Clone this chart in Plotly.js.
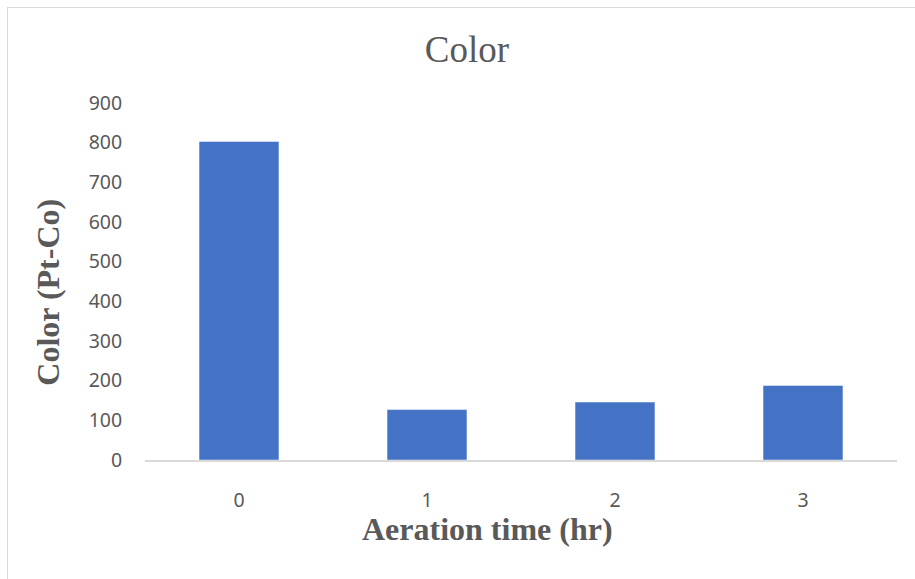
<!DOCTYPE html>
<html>
<head>
<meta charset="utf-8">
<script src="https://cdn.plot.ly/plotly-3.0.1.min.js"></script>
<style>
  html, body { margin: 0; padding: 0; background: #ffffff; }
  #wrap { position: relative; width: 915px; height: 579px; overflow: hidden; }
  #chart { width: 915px; height: 579px; }
  /* chart-area frame */
  #frame {
    position: absolute; left: 7px; top: 7px; width: 940px; height: 600px;
    border-left: 1.5px solid #d9d9d9; border-top: 1.5px solid #d9d9d9;
    pointer-events: none;
  }
</style>
</head>
<body>
<div id="wrap">
  <div id="chart"></div>
  <div id="frame"></div>
</div>
<script>
// Aeration time (hr) categories and measured color (Pt-Co)
const aerationHours = ['0', '1', '2', '3'];
const colorPtCo = [803, 127, 146, 188];
const yTicks = [0, 100, 200, 300, 400, 500, 600, 700, 800, 900];

const W = 915, H = 579;
const gray = '#595959';

const trace = {
  type: 'bar',
  x: aerationHours,
  y: colorPtCo,
  marker: { color: '#4472C4', line: { color: 'rgba(255,255,255,0.45)', width: 1 } },
  hoverinfo: 'x+y'
};

const layout = {
  width: W,
  height: H,
  margin: { l: 145, r: 18, t: 103, b: 118.5 },
  paper_bgcolor: '#ffffff',
  plot_bgcolor: '#ffffff',
  bargap: 0.575,
  showlegend: false,
  title: {
    text: 'Color',
    xref: 'container', yref: 'container',
    x: 467 / W, xanchor: 'center',
    y: 1 - 49 / H, yanchor: 'middle',
    font: { family: 'Liberation Serif, Times New Roman, serif', size: 37, color: gray }
  },
  xaxis: {
    type: 'category',
    showgrid: false,
    zeroline: false,
    showline: true,
    linecolor: '#d9d9d9',
    linewidth: 1.5,
    ticks: 'outside',
    ticklen: 0,
    tickcolor: 'rgba(0,0,0,0)',
    ticklabelstandoff: 22,
    tickfont: { family: 'Noto Sans, Open Sans, sans-serif', size: 19.5, color: gray }
  },
  yaxis: {
    range: [0, 900],
    tickvals: yTicks,
    showgrid: false,
    zeroline: false,
    showline: false,
    ticks: 'outside',
    ticklen: 0,
    tickcolor: 'rgba(0,0,0,0)',
    ticklabelstandoff: 18,
    tickfont: { family: 'Noto Sans, Open Sans, sans-serif', size: 19.5, color: gray }
  },
  annotations: [
    {
      text: '<b>Aeration time (hr)</b>',
      xref: 'paper', yref: 'paper',
      x: (487 - 145) / (897 - 145), xanchor: 'center',
      y: -(530 - 460.5) / (460.5 - 103), yanchor: 'middle',
      showarrow: false,
      font: { family: 'Liberation Serif, Times New Roman, serif', size: 32, color: gray }
    },
    {
      text: '<b>Color (Pt-Co)</b>',
      xref: 'paper', yref: 'paper',
      x: -(145 - 48) / (897 - 145), xanchor: 'center',
      y: (460.5 - 293) / (460.5 - 103), yanchor: 'middle',
      textangle: -90,
      showarrow: false,
      font: { family: 'Liberation Serif, Times New Roman, serif', size: 32, color: gray }
    }
  ]
};

Plotly.newPlot('chart', [trace], layout, { displayModeBar: false, staticPlot: true });
</script>
</body>
</html>
